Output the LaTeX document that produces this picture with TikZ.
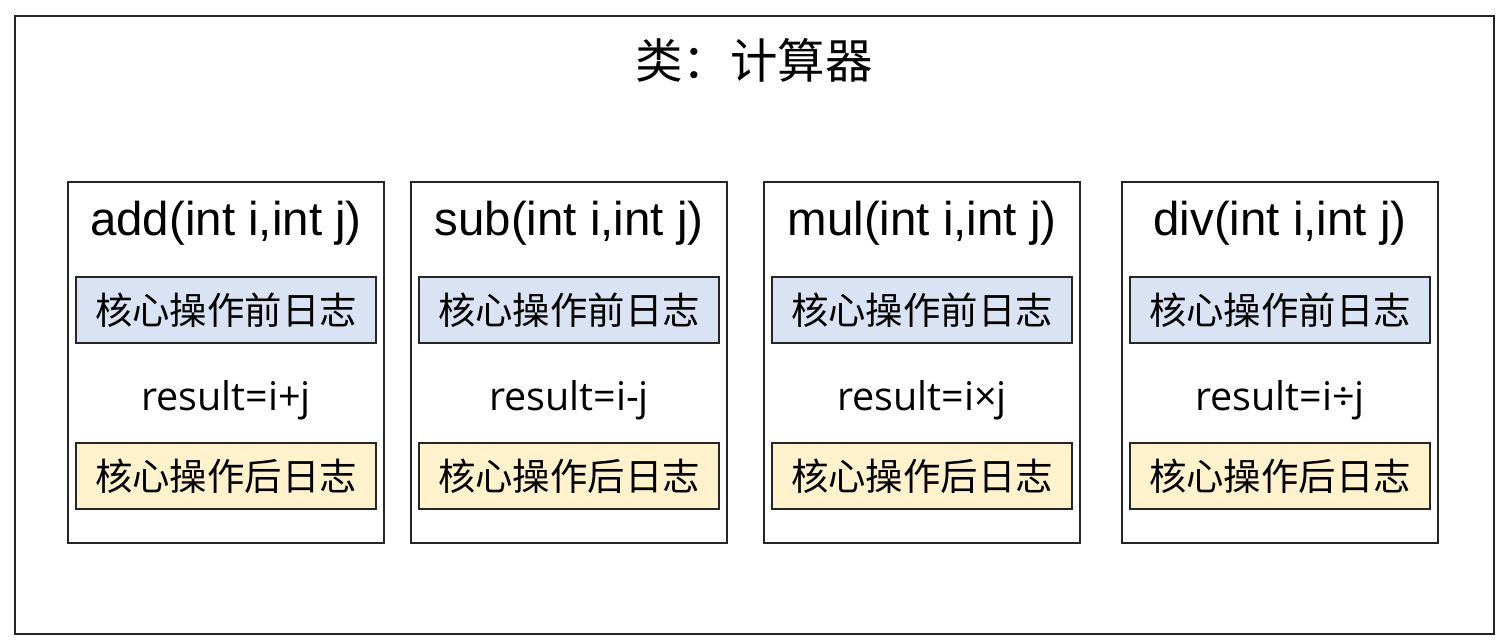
\documentclass[tikz,border=0pt]{standalone}
\usepackage{fontspec}
\setmainfont{Liberation Sans}
\newfontfamily\cjk{Noto Sans CJK SC}
\newfontfamily\opfont{Open Sans}
\usetikzlibrary{positioning}

\begin{document}
\begin{tikzpicture}[
    x=0.02cm, y=-0.02cm,
    frame/.style={rectangle, draw=black!85, line width=1.1pt},
    method/.style={frame, minimum width=6.32cm, minimum height=7.22cm, inner sep=0pt},
    sig/.style={font=\fontsize{27}{30}\selectfont, inner sep=0pt},
    before/.style={frame, fill=beforefill, minimum width=6.0cm, minimum height=1.32cm, inner sep=0pt, font=\cjk\fontsize{21.3}{24}\selectfont},
    after/.style={before, fill=afterfill},
    core/.style={font=\opfont\fontsize{22.5}{26}\selectfont, inner sep=0pt}
]
\definecolor{beforefill}{HTML}{DAE3F3}
\definecolor{afterfill}{HTML}{FFF2CC}
\useasboundingbox (0,0) rectangle (1502,643);

% Class frame
\node[frame, minimum width=29.6cm, minimum height=12.36cm, inner sep=0pt] (calc) at (754.5,325) {};
\node[font=\cjk\fontsize{27}{30}\selectfont, inner sep=0pt] (calctitle) at (754,60) {类：计算器};

% Methods
\node[method] (add) at (226,362.5) {};
\node[method] (sub) at (569,362.5) {};
\node[method] (mul) at (922,362.5) {};
\node[method] (div) at (1280,362.5) {};

% add
\node[sig] (addsig) at ([yshift=-0.84cm]add.north) {add(int i,int j)};
\node[before] (addpre) at ([yshift=-2.58cm]add.north) {核心操作前日志};
\node[core] (addop) at ([yshift=-4.38cm]add.north) {result=i+j};
\node[after] (addpost) at ([yshift=-5.9cm]add.north) {核心操作后日志};

% sub
\node[sig] (subsig) at ([yshift=-0.84cm]sub.north) {sub(int i,int j)};
\node[before] (subpre) at ([yshift=-2.58cm]sub.north) {核心操作前日志};
\node[core] (subop) at ([yshift=-4.38cm]sub.north) {result=i-j};
\node[after] (subpost) at ([yshift=-5.9cm]sub.north) {核心操作后日志};

% mul
\node[sig] (mulsig) at ([yshift=-0.84cm]mul.north) {mul(int i,int j)};
\node[before] (mulpre) at ([yshift=-2.58cm]mul.north) {核心操作前日志};
\node[core] (mulop) at ([yshift=-4.38cm]mul.north) {result=i×j};
\node[after] (mulpost) at ([yshift=-5.9cm]mul.north) {核心操作后日志};

% div
\node[sig] (divsig) at ([yshift=-0.84cm]div.north) {div(int i,int j)};
\node[before] (divpre) at ([yshift=-2.58cm]div.north) {核心操作前日志};
\node[core] (divop) at ([yshift=-4.38cm]div.north) {result=i÷j};
\node[after] (divpost) at ([yshift=-5.9cm]div.north) {核心操作后日志};

\end{tikzpicture}
\end{document}
